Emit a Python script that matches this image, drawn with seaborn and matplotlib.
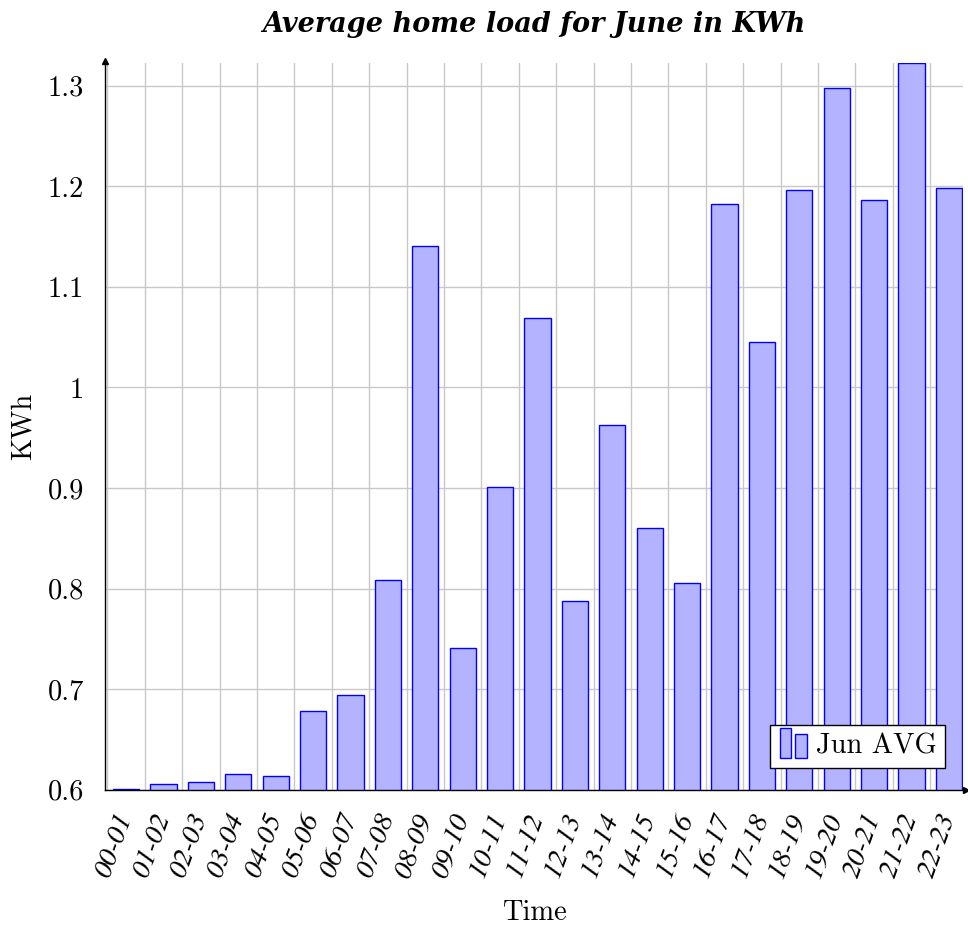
import numpy as np
import pandas as pd
import matplotlib
matplotlib.use("Agg")
import matplotlib.pyplot as plt
import seaborn as sns
from matplotlib.patches import Rectangle
from matplotlib.legend_handler import HandlerBase
from matplotlib.ticker import FuncFormatter, FixedLocator, NullFormatter

# ---- data ----
categories = ["00-01", "01-02", "02-03", "03-04", "04-05", "05-06", "06-07", "07-08",
              "08-09", "09-10", "10-11", "11-12", "12-13", "13-14", "14-15", "15-16",
              "16-17", "17-18", "18-19", "19-20", "20-21", "21-22", "22-23"]
values = [0.6004, 0.6054, 0.6074, 0.6153, 0.6133, 0.6787, 0.6946, 0.8089,
          1.1412, 0.7414, 0.9010, 1.0691, 0.7874, 0.9629, 0.8599, 0.8060,
          1.1828, 1.0448, 1.1960, 1.2977, 1.1860, 1.3222, 1.1980]
yticks = [0.6, 0.7, 0.8, 0.9, 1.0, 1.1, 1.2, 1.3]
series_label = "Jun AVG"
title = "Average home load for June in KWh"
xlabel = "Time"
ylabel = "KWh"

df = pd.DataFrame({"slot": categories, "kwh": values})

sns.set_theme(style="white")
plt.rcParams["font.family"] = ["cmr10", "DejaVu Serif"]
plt.rcParams["mathtext.fontset"] = "cm"
plt.rcParams["axes.formatter.use_mathtext"] = True
for k in ["text.color", "axes.labelcolor", "xtick.labelcolor", "ytick.labelcolor"]:
    plt.rcParams[k] = "black"

FILL = "#b3b3ff"
EDGE = "#0000ff"
GRID = "#c8c8c8"

fig = plt.figure(figsize=(9.68, 9.27), dpi=100)
ax = fig.add_axes([0.1088, 0.1481, 0.886, 0.7834])

sns.barplot(data=df, x="slot", y="kwh", color=FILL, saturation=1,
            edgecolor=EDGE, linewidth=1.0, width=0.7, ax=ax, zorder=3)

ax.set_ylim(0.6, max(values))
ax.set_xlim(-0.553, 22.374)

# tick marks / grid at category boundaries, labels at bar centres
n = len(categories)
ax.xaxis.set_major_locator(FixedLocator(np.arange(n + 1) - 0.5))
ax.xaxis.set_major_formatter(NullFormatter())
ax.xaxis.set_minor_locator(FixedLocator(np.arange(n)))
ax.set_xticklabels(categories, minor=True, rotation=70, ha="right", va="center",
                   rotation_mode="anchor", fontsize=20.5,
                   family="STIXGeneral", style="italic", color="black")
ax.set_yticks(yticks)
ax.yaxis.set_major_formatter(FuncFormatter(lambda v, p: "%g" % round(v, 2)))
for lab in ax.get_yticklabels():
    lab.set_fontsize(20.5)
    lab.set_color("black")

ax.tick_params(axis="y", direction="inout", length=7, width=1, color="#999999", pad=12)
ax.tick_params(axis="x", which="major", direction="out", length=8, width=1,
               color="#999999")
ax.tick_params(axis="x", which="minor", length=0, pad=18)

ax.grid(True, which="major", color=GRID, linewidth=1.0)
ax.set_axisbelow(True)

for s in ["top", "right"]:
    ax.spines[s].set_visible(False)
for s in ["left", "bottom"]:
    ax.spines[s].set_color("black")
    ax.spines[s].set_linewidth(1.0)
    ax.spines[s].set_zorder(4)
ax.plot(1.004, 0, marker=">", color="black", markersize=5, transform=ax.transAxes,
        clip_on=False, zorder=5)
ax.plot(0, 1.004, marker="^", color="black", markersize=5, transform=ax.transAxes,
        clip_on=False, zorder=5)

ax.set_xlabel(xlabel, fontsize=20.5, color="black")
ax.xaxis.set_label_coords(0.5, -0.151)
ax.set_ylabel(ylabel, fontsize=20.5, color="black")
ax.yaxis.set_label_coords(-0.080, 0.5)
ax.set_title(title, fontsize=19.5, family="DejaVu Serif", weight="bold",
             style="italic", pad=23, color="black")


class TwoBars(HandlerBase):
    def create_artists(self, legend, orig_handle, xdescent, ydescent,
                       width, height, fontsize, trans):
        w = width * 0.38
        r1 = Rectangle((-xdescent + 1, -ydescent - 3), w, height * 1.25 + 3,
                       facecolor=FILL, edgecolor=EDGE, lw=1, transform=trans)
        r2 = Rectangle((-xdescent + 1 + w * 1.35, -ydescent - 3), w, height * 0.95 + 3,
                       facecolor=FILL, edgecolor=EDGE, lw=1, transform=trans)
        return [r1, r2]


proxy = Rectangle((0, 0), 1, 1, facecolor=FILL, edgecolor=EDGE)
leg = ax.legend([proxy], [series_label], handler_map={Rectangle: TwoBars()},
                loc="lower right", bbox_to_anchor=(0.979, 0.03),
                fontsize=20.5, frameon=True, fancybox=False, edgecolor="black",
                framealpha=1, handlelength=1.05, handletextpad=0.25,
                borderpad=0.3, borderaxespad=0)
leg.get_frame().set_linewidth(1.0)
leg.set_zorder(6)

fig.savefig("out.png", dpi=100, facecolor="white")
